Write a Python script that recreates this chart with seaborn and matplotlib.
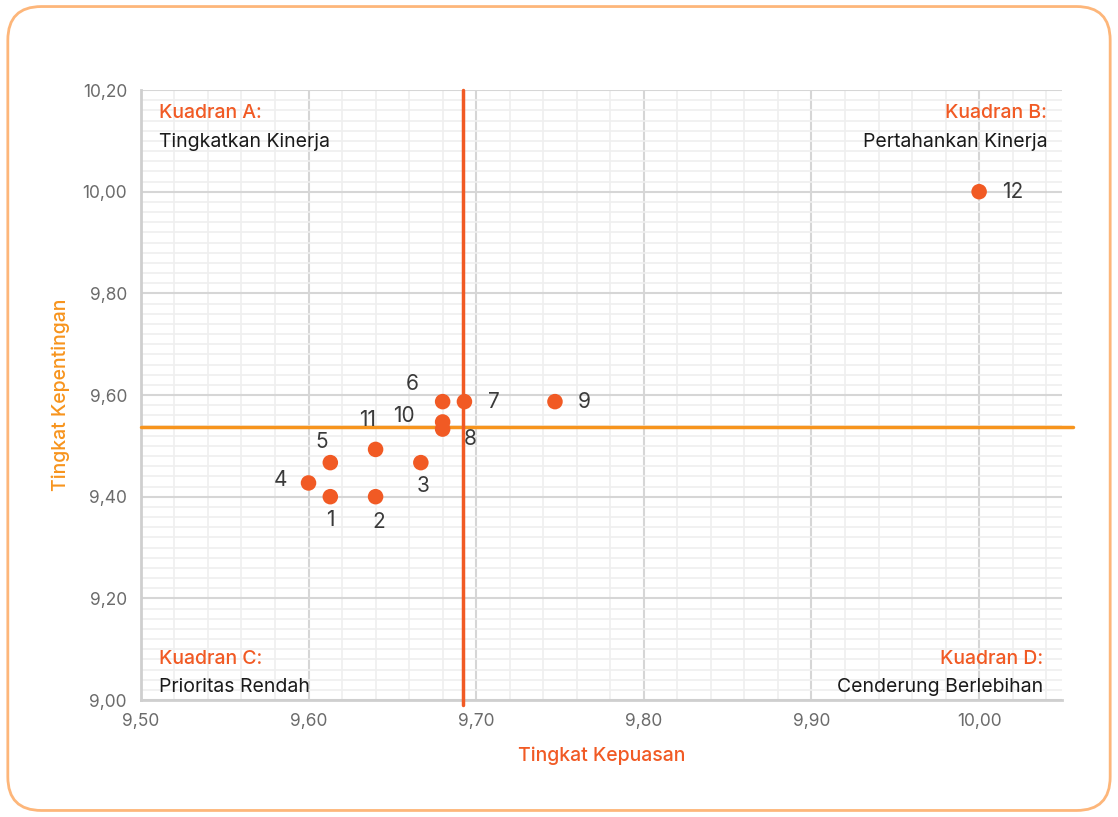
import numpy as np
import pandas as pd
import matplotlib
matplotlib.use("Agg")
import matplotlib.pyplot as plt
import seaborn as sns
from matplotlib.patches import FancyBboxPatch
from matplotlib.ticker import MultipleLocator, FuncFormatter

# data
labels = ["1", "2", "3", "4", "5", "6", "7", "8", "9", "10", "11", "12"]
kepuasan = [9.613, 9.640, 9.667, 9.600, 9.613, 9.680, 9.693, 9.680, 9.747, 9.680, 9.640, 10.000]
kepentingan = [9.400, 9.400, 9.467, 9.427, 9.467, 9.587, 9.587, 9.533, 9.587, 9.547, 9.493, 10.000]
mean_x = 9.692
mean_y = 9.537

# label offsets (points) for each numbered dot
offsets = [(0, -17), (2, -18), (2, -17), (-20, 2), (-6, 15), (-22, 13),
           (21, 0), (20, -7), (21, 0), (-28, 4), (-6, 21), (24, 0)]

df = pd.DataFrame({"x": kepuasan, "y": kepentingan, "lbl": labels})

sns.set_style("white")
plt.rcParams['font.family'] = ['Inter', 'DejaVu Sans']

RED = "#F15A24"
ORANGE = "#F7941D"

fig = plt.figure(figsize=(11.18, 8.17), dpi=100)
ax = fig.add_axes([0.126, 0.1432, 0.824, 0.7466])

# rounded frame around the whole card
frame = FancyBboxPatch((0.007, 0.008), 0.986, 0.984,
                       boxstyle="round,pad=0,rounding_size=0.03",
                       transform=fig.transFigure, fill=False,
                       edgecolor="#FDB67A", linewidth=2, mutation_aspect=1118 / 817)
fig.patches.append(frame)

sns.scatterplot(data=df, x="x", y="y", ax=ax, s=125, color=RED,
                edgecolor="none", zorder=5, legend=False)

for (xv, yv, t), (dx, dy) in zip(zip(kepuasan, kepentingan, labels), offsets):
    ax.annotate(t, (xv, yv), xytext=(dx, dy), textcoords="offset points",
                ha="center", va="center", fontsize=15, color="#3a3a3a", zorder=6)

# quadrant split lines
ax.axhline(mean_y, xmin=0, xmax=1.012, color=ORANGE, lw=2.5, clip_on=False, zorder=3)
ax.axvline(mean_x, ymin=-0.008, ymax=1.0, color=RED, lw=2.5, clip_on=False, zorder=4)

ax.set_xlim(9.50, 10.0495)
ax.set_ylim(9.00, 10.20)
ax.xaxis.set_major_locator(MultipleLocator(0.1))
ax.xaxis.set_minor_locator(MultipleLocator(0.02))
ax.yaxis.set_major_locator(MultipleLocator(0.2))
ax.yaxis.set_minor_locator(MultipleLocator(0.02))
fmt = FuncFormatter(lambda v, p: f"{v:.2f}".replace(".", ","))
ax.xaxis.set_major_formatter(fmt)
ax.yaxis.set_major_formatter(fmt)

ax.grid(which="major", color="#d6d6d6", lw=1.5)
ax.grid(which="minor", color="#efefef", lw=1.2)
ax.set_axisbelow(True)
ax.tick_params(which="both", length=0)
ax.tick_params(axis="x", labelsize=12.5, labelcolor="#6b6b6b", pad=9)
ax.tick_params(axis="y", labelsize=12.5, labelcolor="#6b6b6b", pad=10)

for s in ["top", "right"]:
    ax.spines[s].set_visible(False)
for s in ["left", "bottom"]:
    ax.spines[s].set_color("#cfcfcf")
    ax.spines[s].set_linewidth(2)

ax.set_xlabel("Tingkat Kepuasan", fontsize=14, color=RED, fontweight="medium", labelpad=12)
ax.set_ylabel("Tingkat Kepentingan", fontsize=14, color=ORANGE, fontweight="medium", labelpad=9)

# quadrant captions
quads = [
    ("Kuadran A:", "Tingkatkan Kinerja", 0.0195, 0.962, 0.915, "left"),
    ("Kuadran B:", "Pertahankan Kinerja", 0.984, 0.962, 0.915, "right"),
    ("Kuadran C:", "Prioritas Rendah", 0.0195, 0.068, 0.021, "left"),
    ("Kuadran D:", "Cenderung Berlebihan", 0.979, 0.068, 0.021, "right"),
]
for title, desc, qx, ty, dy, ha in quads:
    ax.text(qx, ty, title, transform=ax.transAxes, ha=ha, va="center",
            fontsize=14, color=RED, fontweight="medium")
    ax.text(qx, dy, desc, transform=ax.transAxes, ha=ha, va="center",
            fontsize=14, color="#1a1a1a")

fig.savefig("out.png", dpi=100)
